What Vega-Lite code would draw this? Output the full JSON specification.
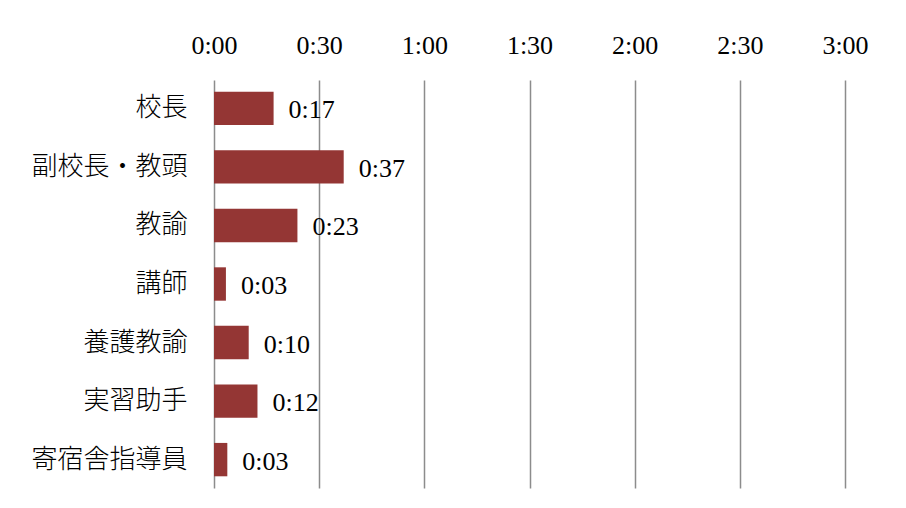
{
  "$schema": "https://vega.github.io/schema/vega-lite/v6.json",
  "width": 631,
  "height": 408,
  "autosize": "none",
  "padding": {"left": 214, "top": 80, "right": 61, "bottom": 20},
  "background": "white",
  "config": {"view": {"stroke": null}},
  "data": {
    "values": [
      {"role": "校長", "minutes": 17, "label": "0:17"},
      {"role": "副校長・教頭", "minutes": 37, "label": "0:37"},
      {"role": "教諭", "minutes": 23.8, "label": "0:23"},
      {"role": "講師", "minutes": 3.4, "label": "0:03"},
      {"role": "養護教諭", "minutes": 9.9, "label": "0:10"},
      {"role": "実習助手", "minutes": 12.4, "label": "0:12"},
      {"role": "寄宿舎指導員", "minutes": 3.8, "label": "0:03"}
    ]
  },
  "encoding": {
    "y": {
      "field": "role",
      "type": "nominal",
      "sort": null,
      "scale": {"paddingInner": 0.43, "paddingOuter": 0.2},
      "axis": {
        "title": null,
        "domain": false,
        "ticks": false,
        "labelFont": "Noto Sans CJK JP",
        "labelFontSize": 26,
        "labelFontWeight": 300,
        "labelColor": "#000000",
        "labelPadding": 27
      }
    },
    "x": {
      "field": "minutes",
      "type": "quantitative",
      "scale": {"domain": [0, 180]},
      "axis": {
        "orient": "top",
        "title": null,
        "values": [0, 30, 60, 90, 120, 150, 180],
        "labelExpr": "floor(datum.value/60) + ':' + (datum.value % 60 < 10 ? '0' : '') + (datum.value % 60)",
        "labelFlush": false,
        "domain": false,
        "ticks": false,
        "grid": true,
        "gridColor": "#8c8c8c",
        "gridWidth": 1.5,
        "labelFont": "Liberation Serif",
        "labelFontSize": 26,
        "labelColor": "#000000",
        "labelPadding": 22
      }
    }
  },
  "layer": [
    {
      "mark": {"type": "bar", "color": "#943634"}
    },
    {
      "mark": {
        "type": "text",
        "align": "left",
        "dx": 15,
        "dy": 2,
        "font": "Liberation Serif",
        "fontSize": 26,
        "color": "#000000"
      },
      "encoding": {"text": {"field": "label"}}
    }
  ]
}
